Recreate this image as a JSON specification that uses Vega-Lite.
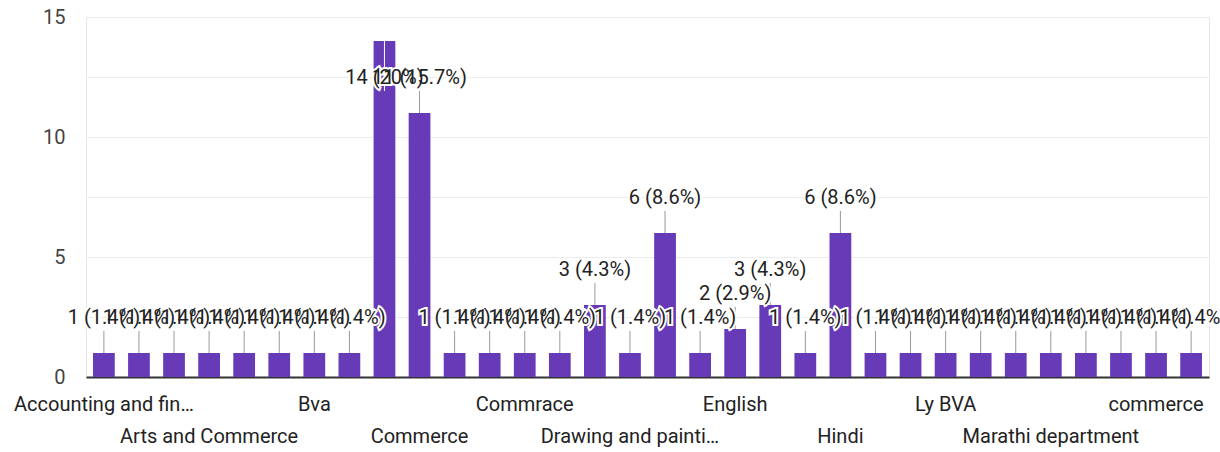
{
  "$schema": "https://vega.github.io/schema/vega-lite/v6.json",
  "width": 1123,
  "height": 360,
  "autosize": {"type": "none"},
  "padding": {"left": 86, "top": 17, "right": 11, "bottom": 75},
  "config": {"font": "Roboto", "view": {"stroke": "#e6e6e6"}},
  "data": {
    "values": [
      {"dept": "Accounting and finance", "count": 1},
      {"dept": "Art", "count": 1},
      {"dept": "Arts", "count": 1},
      {"dept": "Arts and Commerce", "count": 1},
      {"dept": "B.com", "count": 1},
      {"dept": "BVA", "count": 1},
      {"dept": "Bva", "count": 1},
      {"dept": "Bva department", "count": 1},
      {"dept": "COMMERCE", "count": 14},
      {"dept": "Commerce", "count": 11},
      {"dept": "Commerce department", "count": 1},
      {"dept": "Commerce faculty", "count": 1},
      {"dept": "Commrace", "count": 1},
      {"dept": "Computer science", "count": 1},
      {"dept": "Drawing", "count": 3},
      {"dept": "Drawing and painting", "count": 1},
      {"dept": "Economics", "count": 6},
      {"dept": "Economy", "count": 1},
      {"dept": "English", "count": 2},
      {"dept": "English department", "count": 3},
      {"dept": "Geography", "count": 1},
      {"dept": "Hindi", "count": 6},
      {"dept": "History", "count": 1},
      {"dept": "Home science", "count": 1},
      {"dept": "Ly BVA", "count": 1},
      {"dept": "Marathi", "count": 1},
      {"dept": "Marathi dept", "count": 1},
      {"dept": "Marathi department", "count": 1},
      {"dept": "Political science", "count": 1},
      {"dept": "Sociology", "count": 1},
      {"dept": "commerce", "count": 1},
      {"dept": "history", "count": 1}
    ]
  },
  "transform": [
    {"calculate": "datum.count + ' (' + format(datum.count / 70 * 100, '.1~f') + '%)'", "as": "label"},
    {"calculate": "min(datum.count, 11)", "as": "labelBase"},
    {"calculate": "min(datum.count, 11) + 0.92", "as": "ruleTop"}
  ],
  "encoding": {
    "x": {
      "field": "dept",
      "type": "nominal",
      "sort": null,
      "scale": {"paddingInner": 0.38, "paddingOuter": 0.2},
      "axis": {
        "title": null,
        "labelAngle": 0,
        "ticks": false,
        "domainColor": "#333333",
        "domainWidth": 2,
        "labelFontSize": 20,
        "labelColor": "#222222",
        "labelPadding": 17,
        "labelLimit": 184,
        "labelOverlap": false,
        "labelBound": false,
        "labelLineHeight": 32,
        "labelExpr": "(round(datum.index * 31) % 6 == 0) ? datum.label : ((round(datum.index * 31) % 6 == 3) ? ['', datum.label] : '')"
      }
    }
  },
  "layer": [
    {
      "mark": {"type": "bar", "color": "#673ab7"},
      "encoding": {
        "y": {
          "field": "count",
          "type": "quantitative",
          "scale": {"domain": [0, 15], "nice": false},
          "axis": {
            "title": null,
            "values": [0, 2.5, 5, 7.5, 10, 12.5, 15],
            "labelExpr": "datum.value % 5 == 0 ? datum.label : ''",
            "ticks": false,
            "domain": false,
            "gridColor": "#ebebeb",
            "labelFontSize": 20,
            "labelColor": "#444444",
            "labelPadding": 21
          }
        }
      }
    },
    {
      "mark": {"type": "rule", "strokeWidth": 1},
      "encoding": {
        "y": {"field": "count", "type": "quantitative"},
        "y2": {"field": "ruleTop"},
        "color": {"condition": {"test": "datum.count > 11", "value": "#ffffff"}, "value": "#999999"}
      }
    },
    {
      "mark": {"type": "text", "fontSize": 20, "baseline": "middle", "dy": -35, "fill": "#ffffff", "stroke": "#ffffff", "strokeWidth": 4},
      "encoding": {
        "y": {"field": "labelBase", "type": "quantitative"},
        "text": {"field": "label"}
      }
    },
    {
      "mark": {"type": "text", "fontSize": 20, "baseline": "middle", "dy": -35, "color": "#222222"},
      "encoding": {
        "y": {"field": "labelBase", "type": "quantitative"},
        "text": {"field": "label"}
      }
    }
  ]
}
